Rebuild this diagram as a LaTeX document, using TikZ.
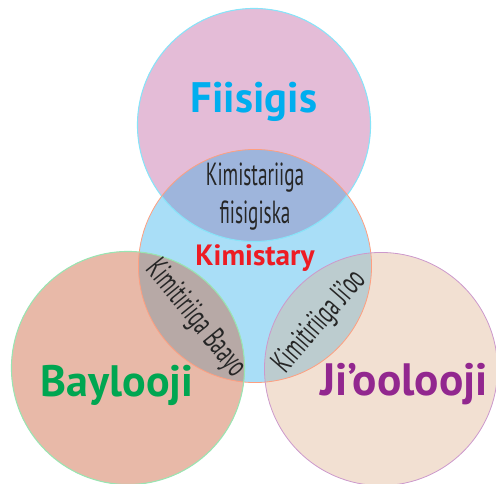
\documentclass[tikz,border=0pt]{standalone}
\usepackage{fontspec}
\setmainfont{PT Sans}
\newfontfamily\narrowfont[FakeStretch=0.6]{PT Sans}
\definecolor{fiipink}{HTML}{E4BCD7}
\definecolor{kimblue}{HTML}{A9DEF7}
\definecolor{baysalmon}{HTML}{E8B9A8}
\definecolor{jiobeige}{HTML}{F2E0D2}
\definecolor{lensfii}{HTML}{9EB5DC}
\definecolor{lensbay}{HTML}{B7A9A6}
\definecolor{lensjio}{HTML}{BCCCCF}
\definecolor{fiicyan}{HTML}{00AEEF}
\definecolor{kimred}{HTML}{ED1C24}
\definecolor{baygreen}{HTML}{00A651}
\definecolor{jiopurple}{HTML}{92278F}
\tikzset{
  bigtext/.style={font=\fontsize{#1}{34}\selectfont\bfseries, inner sep=0pt},
  lenstext/.style={font=\narrowfont\fontsize{24}{28.5}\selectfont, text=black!85, align=center, inner sep=0pt}
}
\begin{document}
\begin{tikzpicture}[x=0.75pt, y=-0.75pt, line join=round]
	\def\r{87.4pt} % radius
	\useasboundingbox (0,0) rectangle (496,484);
	\coordinate (fii) at (254,125);
	\coordinate (kim) at (255,266);
	\coordinate (bay) at (128,368);
	\coordinate (jio) at (381,369);
	% circles
	\fill[fiipink] (fii) circle (\r);
	\fill[kimblue] (kim) circle (\r);
	\fill[baysalmon] (bay) circle (\r);
	\fill[jiobeige] (jio) circle (\r);
	% overlaps
	\begin{scope}
		\clip (kim) circle (\r);
		\fill[lensfii] (fii) circle (\r);
		\fill[lensbay] (bay) circle (\r);
		\fill[lensjio] (jio) circle (\r);
	\end{scope}
	% borders
	\draw[kimblue!80!cyan, line width=0.8pt] (fii) circle (\r);
	\draw[orange!50!red!50, line width=0.6pt] (kim) circle (\r);
	\draw[green!50!teal!40, line width=0.8pt] (bay) circle (\r);
	\draw[violet!40, line width=0.6pt] (jio) circle (\r);
	% labels
	\node[bigtext=32, text=fiicyan] (fiisigis) at (254,102) {Fiisigis};
	\node[bigtext=33, text=baygreen] (baylooji) at (117,385) {Baylooji};
	\node[bigtext=34, text=jiopurple] (jiolooji) at (404,384) {Ji’oolooji};
	\node[bigtext=22, text=kimred] (kimistary) at (255,258) {Kimistary};
	\node[lenstext] (kimfii) at (255,197) {Kimistariiga\\fiisigiska};
	\node[lenstext, rotate=-51] (kimbay) at (195,319) {Kimitiriiga Baayo};
	\node[lenstext, rotate=49] (kimjio) at (320,322) {Kimitiriiga Ji’oo};
\end{tikzpicture}
\end{document}
